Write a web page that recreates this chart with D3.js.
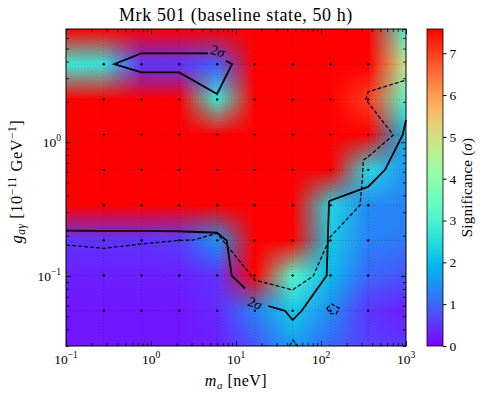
<!DOCTYPE html>
<html>
<head>
<meta charset="utf-8">
<script src="https://cdn.jsdelivr.net/npm/d3@7"></script>
<style>
body { margin: 0; background: #fff; }
text { font-family: "Liberation Serif", "DejaVu Serif", serif; fill: #000; }
</style>
</head>
<body>
<script>
var width = 488,
  height = 397;
var margin = { left: 66, top: 29, right: 82, bottom: 51 };
var pw = width - margin.left - margin.right,
  ph = height - margin.top - margin.bottom;

// grid of the scan (neV and 1e-11 GeV^-1)
var masses = [0.1, 0.278, 0.774, 2.154, 5.995, 16.68, 46.42, 129.2, 359.4, 1000];
var couplings = [0.030, 0.055, 0.1008, 0.1847, 0.338, 0.621, 1.138, 2.085, 3.82, 7.0];
// significance, one row per coupling (bottom -> top), one column per mass
var sig_row0 = [0.2, 0.2, 0.2, 0.2, 0.3, 0.8, 1.6, 1.0, 0.6, 0.5];
var sig_row1 = [0.2, 0.2, 0.2, 0.2, 0.4, 1.3, 2.2, 1.4, 0.5, 0.3];
var sig_row2 = [0.3, 0.3, 0.3, 0.3, 0.5, 7.6, 3.2, 2.0, 1.0, 0.8];
var sig_row3 = [0.5, 0.5, 0.5, 0.6, 1.5, 7.6, 7.6, 2.2, 1.3, 1.2];
var sig_row4 = [7.6, 7.6, 7.6, 7.6, 7.6, 7.6, 7.6, 2.4, 1.4, 1.3];
var sig_row5 = [7.6, 7.6, 7.6, 7.6, 7.6, 7.6, 7.6, 7.6, 2.5, 1.5];
var sig_row6 = [7.6, 7.6, 7.6, 7.6, 7.6, 7.6, 7.6, 7.6, 7.6, 2.0];
var sig_row7 = [7.6, 7.6, 7.6, 7.6, 2.8, 7.6, 7.6, 7.6, 7.0, 3.2];
var sig_row8 = [2.8, 2.7, 0.5, 0.5, 0.9, 7.6, 7.6, 7.6, 7.6, 4.8];
var sig_row9 = [7.6, 7.6, 7.6, 7.6, 7.6, 7.6, 7.6, 7.6, 7.6, 3.0];
var significance = [sig_row0, sig_row1, sig_row2, sig_row3, sig_row4,
  sig_row5, sig_row6, sig_row7, sig_row8, sig_row9];
var vmax = 7.58;
var cbarTicks = [0, 1, 2, 3, 4, 5, 6, 7];
var xMajor = [0.1, 1, 10, 100, 1000];
var yMajor = [0.1, 1];

// contour lines [mass, coupling]
var solidUpper = [[7.63, 4.06], [8.97, 3.82], [5.99, 2.29], [2.15, 3.32], [0.774, 3.32],
  [0.370, 3.82], [0.774, 4.61], [2.15, 4.61], [4.68, 4.61]];
var solidMainA = [[0.1, 0.218], [0.278, 0.217], [0.774, 0.217], [2.15, 0.216], [5.99, 0.2105],
  [7.78, 0.1836], [8.90, 0.1008], [12.76, 0.0809]];
var solidMainB = [[23.99, 0.0597], [37.7, 0.0550], [46.4, 0.0469], [59.3, 0.0550], [116.7, 0.1008],
  [124.2, 0.359], [127.7, 0.365], [359.7, 0.4647], [566, 0.621], [914, 1.130], [1000, 1.463]];
var dashedMain = [[0.1, 0.1705], [0.282, 0.1610], [0.774, 0.1734], [2.15, 0.1847], [3.15, 0.1857],
  [5.99, 0.2084], [11.14, 0.1279], [16.68, 0.0934], [46.4, 0.0786], [81.2, 0.1002], [129.2, 0.1966],
  [287.6, 0.338], [306, 0.5214], [314.6, 0.7355], [359.4, 0.7784], [709.5, 1.13], [335.7, 2.085],
  [359.4, 2.38], [1000, 2.911]];
var dashedLoop = [[116.7, 0.0574], [133.6, 0.0618], [164.2, 0.0574], [150.1, 0.0520],
  [129.2, 0.0526], [116.7, 0.0574]];
var dashedEdge = [[42.6, 0.03], [46.8, 0.0332], [53.6, 0.03]];
var contourLabels = [{ m: 6.14, g: 4.80, rot: 18 }, { m: 16.75, g: 0.0628, rot: 22 }];

// matplotlib "rainbow"
function rainbow(t) {
  t = Math.max(0, Math.min(1, t));
  var c = function (v) { return Math.round(255 * Math.max(0, Math.min(1, v))); };
  return d3.rgb(c(Math.abs(2 * t - 0.5)), c(Math.sin(Math.PI * t)), c(Math.cos(Math.PI * t / 2))) + "";
}
var color = d3.scaleSequential(rainbow).domain([0, vmax]);

var x = d3.scaleLog().domain([0.1, 1000]).range([0, pw]);
var y = d3.scaleLog().domain([0.03, 7]).range([ph, 0]);
var xi = d3.scaleLog().domain(masses).range(d3.range(masses.length));
var yi = d3.scaleLog().domain(couplings).range(d3.range(couplings.length));

var svg = d3.select("body").append("svg")
  .attr("width", width).attr("height", height);
var g = svg.append("g").attr("transform", "translate(" + margin.left + "," + margin.top + ")");

/* heat map: colours of the grid blended between points */
var gridRGB = significance.map(function (row) {
  return row.map(function (v) { return d3.rgb(color(v)); });
});
var canvas = document.createElement("canvas");
canvas.width = pw; canvas.height = ph;
var ctx = canvas.getContext("2d");
var img = ctx.createImageData(pw, ph);
var nx = masses.length - 1, ny = couplings.length - 1;
for (var py = 0; py < ph; py++) {
  var v = Math.max(0, Math.min(ny, yi(y.invert(py + 0.5))));
  var j0 = Math.min(ny - 1, Math.floor(v)), fy = v - j0;
  for (var px = 0; px < pw; px++) {
    var u = Math.max(0, Math.min(nx, xi(x.invert(px + 0.5))));
    var i0 = Math.min(nx - 1, Math.floor(u)), fx = u - i0;
    var a = gridRGB[j0][i0], b = gridRGB[j0][i0 + 1], c = gridRGB[j0 + 1][i0], d = gridRGB[j0 + 1][i0 + 1];
    var k = 4 * (py * pw + px);
    ["r", "g", "b"].forEach(function (ch, n) {
      var bot = a[ch] * (1 - fx) + b[ch] * fx;
      var top = c[ch] * (1 - fx) + d[ch] * fx;
      img.data[k + n] = bot * (1 - fy) + top * fy;
    });
    img.data[k + 3] = 255;
  }
}
ctx.putImageData(img, 0, 0);
g.append("image").attr("width", pw).attr("height", ph)
  .attr("preserveAspectRatio", "none")
  .attr("href", canvas.toDataURL());

// dotted grid through the scan points
g.selectAll(".vgrid").data(masses.slice(1, -1)).enter().append("line")
  .attr("x1", x).attr("x2", x).attr("y1", 0).attr("y2", ph)
  .attr("stroke", "#000").attr("stroke-opacity", 0.3).attr("stroke-width", 0.7)
  .attr("stroke-dasharray", "1,2");
g.selectAll(".hgrid").data(couplings.slice(1, -1)).enter().append("line")
  .attr("y1", y).attr("y2", y).attr("x1", 0).attr("x2", pw)
  .attr("stroke", "#000").attr("stroke-opacity", 0.3).attr("stroke-width", 0.7)
  .attr("stroke-dasharray", "1,2");
var pts = [];
masses.slice(1, -1).forEach(function (m) {
  couplings.slice(1, -1).forEach(function (c) { pts.push([m, c]); });
});
g.selectAll(".pt").data(pts).enter().append("circle")
  .attr("cx", function (d) { return x(d[0]); })
  .attr("cy", function (d) { return y(d[1]); })
  .attr("r", 1.2).attr("fill", "#000");

// contours
var line = d3.line().x(function (d) { return x(d[0]); }).y(function (d) { return y(d[1]); });
[solidUpper, solidMainA, solidMainB].forEach(function (c) {
  g.append("path").attr("d", line(c)).attr("fill", "none")
    .attr("stroke", "#000").attr("stroke-width", 1.8).attr("stroke-linejoin", "miter");
});
[dashedMain, dashedLoop, dashedEdge].forEach(function (c) {
  g.append("path").attr("d", line(c)).attr("fill", "none")
    .attr("stroke", "#000").attr("stroke-width", 1.2).attr("stroke-dasharray", "4,2");
});
contourLabels.forEach(function (l) {
  var t = g.append("text")
    .attr("transform", "translate(" + x(l.m) + "," + y(l.g) + ") rotate(" + l.rot + ")")
    .attr("text-anchor", "middle").attr("dy", "0.35em")
    .style("font-size", "14px");
  t.append("tspan").text("2");
  t.append("tspan").style("font-style", "italic").text("σ");
});

// frame and ticks (all sides, pointing inwards)
g.append("rect").attr("width", pw).attr("height", ph)
  .attr("fill", "none").attr("stroke", "#000").attr("stroke-width", 1);
function ticks(axis, scale, vals, len, pos) {
  g.append("g").attr("transform", pos)
    .call(axis(scale).tickValues(vals).tickSize(-len).tickFormat(""))
    .call(function (s) { s.select(".domain").remove(); s.selectAll("line").attr("stroke-width", 0.8); });
}
var xMinor = x.ticks().filter(function (t) { return xMajor.indexOf(t) < 0; });
var yMinor = y.ticks().filter(function (t) { return yMajor.indexOf(t) < 0; });
ticks(d3.axisBottom, x, xMajor, 5, "translate(0," + ph + ")");
ticks(d3.axisBottom, x, xMinor, 3, "translate(0," + ph + ")");
ticks(d3.axisTop, x, xMajor, 5, "translate(0,0)");
ticks(d3.axisTop, x, xMinor, 3, "translate(0,0)");
ticks(d3.axisLeft, y, yMajor, 5, "translate(0,0)");
ticks(d3.axisLeft, y, yMinor, 3, "translate(0,0)");
ticks(d3.axisRight, y, yMajor, 5, "translate(" + pw + ",0)");
ticks(d3.axisRight, y, yMinor, 3, "translate(" + pw + ",0)");

function powLabel(sel, v) {
  var e = Math.round(Math.log10(v));
  sel.append("tspan").text("10");
  sel.append("tspan").attr("dy", -6).style("font-size", "9.5px").text(e < 0 ? "\u2212" + (-e) : e);
}
g.selectAll(".xlab").data(xMajor).enter().append("text")
  .attr("x", x).attr("y", ph + 18).attr("text-anchor", "middle")
  .style("font-size", "13.5px")
  .each(function (d) { powLabel(d3.select(this), d); });
g.selectAll(".ylab").data(yMajor).enter().append("text")
  .attr("x", -5).attr("y", function (d) { return y(d) + 5; }).attr("text-anchor", "end")
  .style("font-size", "13.5px")
  .each(function (d) { powLabel(d3.select(this), d); });

// titles
svg.append("text").attr("x", margin.left + pw / 2).attr("y", 21)
  .attr("text-anchor", "middle").style("font-size", "18px").style("letter-spacing", "0.6px")
  .text("Mrk 501 (baseline state, 50 h)");
var xl = svg.append("text").attr("x", margin.left + pw / 2).attr("y", 386)
  .attr("text-anchor", "middle").style("font-size", "16px").style("letter-spacing", "0.5px");
xl.append("tspan").style("font-style", "italic").text("m");
xl.append("tspan").style("font-style", "italic").style("font-size", "11px").attr("dy", 3).text("a");
xl.append("tspan").attr("dy", -3).text(" [neV]");
var yl = svg.append("text")
  .attr("transform", "translate(22," + (margin.top + ph / 2 - 6) + ") rotate(-90)")
  .attr("text-anchor", "middle").style("font-size", "16.5px").style("letter-spacing", "0.5px");
yl.append("tspan").style("font-style", "italic").text("g");
yl.append("tspan").style("font-style", "italic").style("font-size", "11.5px").attr("dy", 3).text("aγ");
yl.append("tspan").attr("dy", -3).text(" [10");
yl.append("tspan").style("font-size", "11.5px").attr("dy", -6).text("\u221211");
yl.append("tspan").attr("dy", 6).text(" GeV");
yl.append("tspan").style("font-size", "11.5px").attr("dy", -6).text("\u22121");
yl.append("tspan").attr("dy", 6).text("]");

// colour bar
var cb = svg.append("g").attr("transform", "translate(427," + margin.top + ")");
var cbw = 16;
var cy = d3.scaleLinear().domain([0, vmax]).range([ph, 0]);
var grad = svg.append("defs").append("linearGradient").attr("id", "cbar")
  .attr("x1", 0).attr("y1", 1).attr("x2", 0).attr("y2", 0);
grad.selectAll("stop").data(d3.range(0, 1.0001, 0.02)).enter().append("stop")
  .attr("offset", function (d) { return d; })
  .attr("stop-color", function (d) { return rainbow(d); });
cb.append("rect").attr("width", cbw).attr("height", ph).attr("fill", "url(#cbar)")
  .attr("stroke", "#000").attr("stroke-width", 0.8);
cb.append("g").attr("transform", "translate(" + cbw + ",0)")
  .call(d3.axisRight(cy).tickValues(cbarTicks).tickSize(3.5).tickPadding(3).tickFormat(d3.format("d")))
  .call(function (s) {
    s.select(".domain").remove();
    s.selectAll("text").style("font-family", "Liberation Serif, serif").style("font-size", "13.5px");
  });
var cl = svg.append("text")
  .attr("transform", "translate(472," + (margin.top + ph / 2) + ") rotate(-90)")
  .attr("text-anchor", "middle").style("font-size", "15px").style("letter-spacing", "0.2px");
cl.append("tspan").text("Significance (");
cl.append("tspan").style("font-style", "italic").text("σ");
cl.append("tspan").text(")");
</script>
</body>
</html>
